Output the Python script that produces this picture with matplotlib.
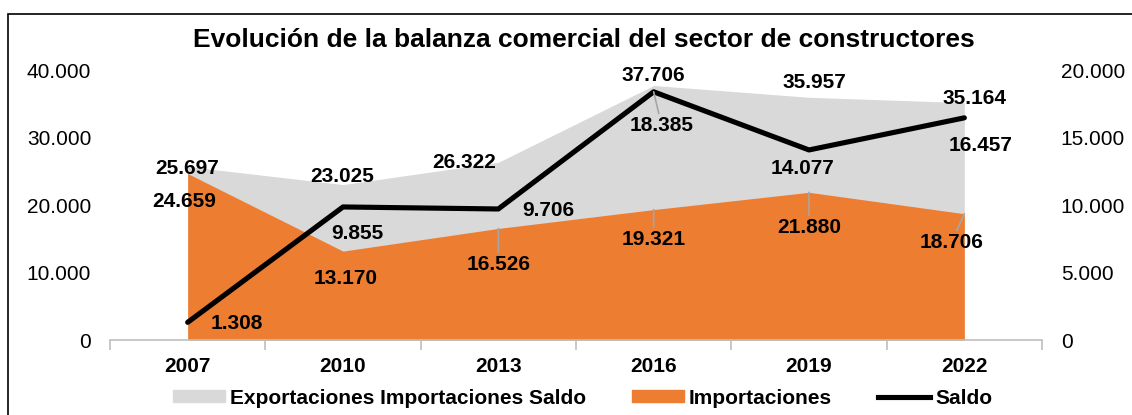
import matplotlib
matplotlib.use("Agg")
import matplotlib.pyplot as plt
from matplotlib.patches import Rectangle, Patch
from matplotlib.lines import Line2D
import numpy as np

plt.rcParams["font.family"] = ["Liberation Sans", "DejaVu Sans"]

years = ["2007", "2010", "2013", "2016", "2019", "2022"]
exportaciones = [25697, 23025, 26322, 37706, 35957, 35164]
importaciones = [24659, 13170, 16526, 19321, 21880, 18706]
saldo = [1308, 9855, 9706, 18385, 14077, 16457]

# label offsets in pixels (dx, dy) and whether a leader line is drawn
exp_off = [(-1, -2), (-1, 8), (-34, 0), (0, 10), (5, 15), (10, 4)]
imp_off = [(-3, -28), (3, -27), (0, -36), (0, -30), (0, -35), (-13, -29)]
imp_lead = [False, False, True, True, True, True]
sal_off = [(49, -1), (14, -27), (50, -2), (8, -34), (-6, -19), (16, -28)]
sal_lead = [False, False, False, True, False, False]

gray, orange = "#D9D9D9", "#ED7D31"
fmt = lambda v: f"{v:,}".replace(",", ".")

fig = plt.figure(figsize=(11.32, 4.15), dpi=100)
fig.patches.append(Rectangle((8 / 1132, -0.1), 1.2, 1 - 14 / 415 + 0.1,
                             transform=fig.transFigure, fill=False,
                             ec="black", lw=1.2))
ax = fig.add_axes([110 / 1132, 1 - 340 / 415, 932 / 1132, 270 / 415])
x = np.arange(len(years))
ax.fill_between(x, exportaciones, color=gray, lw=0)
ax.fill_between(x, importaciones, color=orange, lw=0)
ax.set_xlim(-0.5, len(years) - 0.5)
ax.set_ylim(0, 40000)
ax.set_yticks(range(0, 40001, 10000))
ax.set_yticklabels([fmt(v) for v in range(0, 40001, 10000)], fontsize=15)
ax.set_xticks(x)
ax.set_xticklabels(years, fontsize=15, fontweight="bold")
ax.set_xticks(np.arange(-0.5, len(years)), minor=True)
ax.tick_params(axis="x", which="major", length=0, pad=12)
ax.tick_params(axis="x", which="minor", length=7, color="#BFBFBF", width=1.2)
ax.tick_params(axis="y", length=0, pad=13.5)
for s in ["top", "left", "right"]:
    ax.spines[s].set_visible(False)
ax.spines["bottom"].set_color("#BFBFBF")
ax.spines["bottom"].set_linewidth(1.2)

ax2 = ax.twinx()
ax2.plot(x, saldo, color="black", lw=3.7, solid_capstyle="round")
ax2.set_ylim(0, 20000)
ax2.set_yticks(range(0, 20001, 5000))
ax2.set_yticklabels([fmt(v) for v in range(0, 20001, 5000)], fontsize=15)
ax2.tick_params(axis="y", length=0, pad=13.5)
for s in ax2.spines.values():
    s.set_visible(False)

kw = dict(textcoords="offset pixels", ha="center", va="center",
          fontsize=15, fontweight="bold")
lead = dict(arrowstyle="-", color="#A6A6A6", lw=1.2, shrinkA=0, shrinkB=0)
for i in range(len(years)):
    ax.annotate(fmt(exportaciones[i]), (x[i], exportaciones[i]), xytext=exp_off[i], **kw)
    ax.annotate(fmt(importaciones[i]), (x[i], importaciones[i]), xytext=imp_off[i],
                arrowprops=lead if imp_lead[i] else None, **kw)
    ax2.annotate(fmt(saldo[i]), (x[i], saldo[i]), xytext=sal_off[i],
                 arrowprops=lead if sal_lead[i] else None, **kw)

fig.text(0.5155, 1 - 40 / 415, "Evolución de la balanza comercial del sector de constructores",
         ha="center", va="center", fontsize=19, fontweight="bold")

handles = [Patch(color=gray), Patch(color=orange), Line2D([], [], color="black", lw=3.7)]
labels = ["Exportaciones Importaciones Saldo", "Importaciones", "Saldo"]
fig.legend(handles, labels, loc="center", bbox_to_anchor=(0.5146, 1 - 398 / 415),
           ncol=3, frameon=False, handlelength=2.5, handleheight=0.55,
           handletextpad=0.25, columnspacing=2.2, borderpad=0,
           prop={"size": 15, "weight": "bold"})

fig.savefig("out.png", dpi=100)
